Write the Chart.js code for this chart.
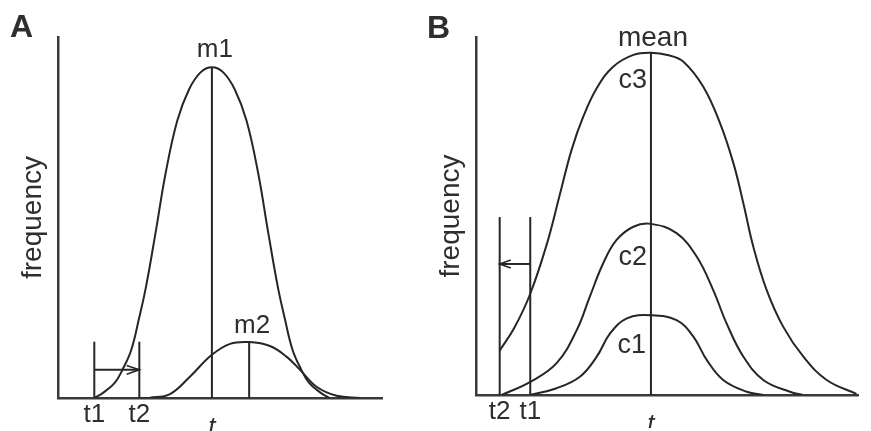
<!DOCTYPE html>
<html>
<head>
<meta charset="utf-8">
<script src="https://cdn.jsdelivr.net/npm/chart.js@4.4.1/dist/chart.umd.min.js"></script>
<style>
  html, body { margin: 0; padding: 0; background: #fff; overflow: hidden; }
  #wrap { position: relative; width: 871px; height: 431px; overflow: hidden; }
  canvas { position: absolute; top: 0; }
  #chartA { left: 0; }
  #chartB { left: 420px; }
</style>
</head>
<body>
<div id="wrap">
  <canvas id="chartA" width="420" height="460"></canvas>
  <canvas id="chartB" width="451" height="460"></canvas>
</div>
<script>
// ---- panel A: two distributions, the threshold moves from t1 to t2
const m1T    = [11.2, 14.0, 17.5, 20.0, 22.6, 25.0, 27.2, 30.3, 33.2, 36.8, 40.4, 44.0, 47.5, 51.0, 54.6, 58.2, 61.8, 64.7, 67.8, 70.0, 72.4, 75.0, 77.5, 81.0, 83.8];
const m1Freq = [0, 1.5, 4.2, 8.0, 13.3, 22.0, 31.0, 46.8, 62.2, 76.8, 85.4, 90.2, 91.6, 90.2, 85.4, 76.8, 62.2, 46.8, 31.0, 22.0, 13.3, 8.0, 4.2, 1.5, 0];
const m2T    = [25.3, 28.4, 34.6, 40.7, 47.4, 53.1, 59.0, 65.4, 70.6, 74.7, 79.8, 86.0, 93.2];
const m2Freq = [0, 0.1, 1.1, 5.9, 11.9, 15.0, 15.5, 14.4, 11.4, 7.8, 3.1, 0.6, 0];
const ticksA = [11.2, 25.1, 47.5];
const tickLabelsA = ['t1', 't2', 't'];
const windowA = [11.2, 25.1];      // from t1 to t2
const windowTopA = 15.6;
const arrowLevelA = 7.8;

// ---- panel B: three curves around one mean, threshold moves from t1 back to t2
const c3T    = [6.2, 10.0, 14.1, 18.5, 22.0, 25.0, 28.1, 31.6, 35.9, 41.2, 45.8, 50.4, 54.3, 59.5, 63.9, 67.4, 70.0, 72.6, 76.1, 80.4, 85.7, 91.8, 99.6];
const c3Freq = [12.4, 18.7, 28.0, 42.0, 56.2, 68.4, 77.8, 85.7, 91.7, 95.0, 95.6, 94.9, 93.1, 86.1, 75.9, 64.7, 53.5, 41.4, 29.3, 19.1, 10.7, 4.2, 0.3];
const c2T    = [6.7, 14.1, 21.1, 26.4, 29.8, 33.3, 36.8, 41.2, 45.8, 52.5, 57.8, 62.1, 65.6, 70.0, 75.2, 82.2, 85.6];
const c2Freq = [0, 3.6, 8.9, 18.2, 27.5, 36.8, 43.3, 47.0, 47.8, 45.2, 38.6, 29.3, 20.0, 10.7, 4.2, 0.9, 0];
const c1T    = [14.1, 21.1, 27.2, 31.6, 35.1, 39.5, 45.8, 52.5, 56.9, 60.4, 64.7, 70.9, 75.2];
const c1Freq = [0, 1.9, 5.1, 10.7, 17.2, 21.4, 22.3, 20.9, 16.3, 9.8, 4.2, 0.9, 0];
const ticksB = [6.2, 14.2, 45.8];
const tickLabelsB = ['t2', 't1', 't'];
const windowB = [14.2, 6.2];       // from t1 back to t2
const windowTopB = 49.7;
const arrowLevelB = 36.6;

const INK = '#262626';
const AXIS = '#3a3a3a';
const TEXT = '#2e2e2e';
const FAMILY = '"Liberation Sans", Arial, Helvetica, sans-serif';

function pts(xs, ys) {
  return xs.map((x, i) => ({ x: x, y: ys[i] }));
}
function peakOf(xs, ys) {
  const i = ys.indexOf(Math.max(...ys));
  return { x: xs[i], y: ys[i] };
}
function curve(xs, ys) {
  return { data: pts(xs, ys), borderColor: INK, borderWidth: 2, pointRadius: 0,
           tension: 0.4, fill: false };
}
function seg(points) {
  return { data: points, borderColor: INK, borderWidth: 2, pointRadius: 0, tension: 0, fill: false };
}
// vertical line from the baseline up to a peak
function stem(p) {
  return seg([{ x: p.x, y: 0 }, { x: p.x, y: p.y }]);
}
// window lines + arrow (head drawn at the "to" end)
function windowSets(win, top, level, headLen, headHalf) {
  const from = win[0], to = win[1];
  const dir = to > from ? 1 : -1;
  return [
    seg([{ x: from, y: 0 }, { x: from, y: top }]),
    seg([{ x: to, y: 0 }, { x: to, y: top }]),
    seg([{ x: from, y: level }, { x: to, y: level }]),
    Object.assign(seg([{ x: to - dir * headLen, y: level + headHalf }, { x: to, y: level },
                       { x: to - dir * headLen, y: level - headHalf }]), { borderWidth: 1.6 })
  ];
}

const textPlugin = {
  id: 'panelText',
  afterDraw(chart, args, opts) {
    const ctx = chart.ctx;
    const sx = chart.scales.x, sy = chart.scales.y;
    ctx.save();
    ctx.fillStyle = TEXT;
    ctx.textBaseline = 'alphabetic';
    ctx.textAlign = 'left';
    ctx.font = 'bold 32px ' + FAMILY;
    ctx.fillText(opts.letter, opts.letterX, opts.letterY);
    opts.notes.forEach(n => {
      ctx.font = n.size + 'px ' + FAMILY;
      ctx.textAlign = n.align;
      ctx.fillText(n.text, sx.getPixelForValue(n.at.x) + n.dx, sy.getPixelForValue(n.at.y) + n.dy);
    });
    ctx.restore();
  }
};

function makeOptions(ticks, tickLabels, yWidth, titlePad, pad, text) {
  return {
    responsive: false,
    animation: false,
    events: [],
    layout: { padding: pad },
    plugins: { legend: { display: false }, tooltip: { enabled: false }, panelText: text },
    scales: {
      x: {
        type: 'linear', min: 0, max: 100,
        grid: { display: false, drawTicks: false },
        border: { display: true, color: AXIS, width: 2.5 },
        afterBuildTicks: (s) => { s.ticks = ticks.map(v => ({ value: v })); },
        afterFit: (s) => { s.height = 33; },
        ticks: {
          autoSkip: false, maxRotation: 0, padding: 4, color: TEXT,
          // the italic t sits lower than t1/t2: give it an empty first line
          callback: (v, i) => tickLabels[i] === 't' ? ['', 't'] : tickLabels[i],
          font: (c) => tickLabels[c.index] === 't'
            ? { family: FAMILY, size: 26, style: 'italic', lineHeight: 0.65 }
            : { family: FAMILY, size: 26, lineHeight: 1 }
        }
      },
      y: {
        min: 0, max: 100,
        grid: { display: false, drawTicks: false },
        border: { display: true, color: AXIS, width: 2.5 },
        ticks: { display: false },
        afterFit: (s) => { s.width = yWidth; },
        title: {
          display: true, text: 'frequency', color: TEXT,
          font: { family: FAMILY, size: 28, lineHeight: 1 },
          padding: { top: titlePad, bottom: 0 }
        }
      }
    }
  };
}

// ---- chart A
const m1Peak = peakOf(m1T, m1Freq);
const m2Peak = peakOf(m2T, m2Freq);
new Chart(document.getElementById('chartA'), {
  type: 'line',
  data: {
    datasets: [
      curve(m1T, m1Freq),
      curve(m2T, m2Freq),
      stem(m1Peak),
      stem(m2Peak)
    ].concat(windowSets(windowA, windowTopA, arrowLevelA, 3.9, 1.2))
  },
  options: makeOptions(ticksA, tickLabelsA, 58, 19,
    { left: 0, right: 38, top: 37, bottom: 29 },
    { letter: 'A', letterX: 10, letterY: 37,
      notes: [
        { text: 'm1', at: m1Peak, dx: 3, dy: -10, align: 'center', size: 26 },
        { text: 'm2', at: m2Peak, dx: 3, dy: -9, align: 'center', size: 26 }
      ] }),
  plugins: [textPlugin]
});

// ---- chart B
const c3Peak = peakOf(c3T, c3Freq);
const c2Peak = peakOf(c2T, c2Freq);
const c1Peak = peakOf(c1T, c1Freq);
new Chart(document.getElementById('chartB'), {
  type: 'line',
  data: {
    datasets: [
      curve(c3T, c3Freq),
      curve(c2T, c2Freq),
      curve(c1T, c1Freq),
      stem(c3Peak)
    ].concat(windowSets(windowB, windowTopB, arrowLevelB, 2.9, 1.1))
  },
  options: makeOptions(ticksB, tickLabelsB, 56, 17,
    { left: 0, right: 13, top: 37, bottom: 32 },
    { letter: 'B', letterX: 7, letterY: 38,
      notes: [
        { text: 'mean', at: c3Peak, dx: 2, dy: -7, align: 'center', size: 28 },
        { text: 'c3', at: c3Peak, dx: -4, dy: 35, align: 'right', size: 27 },
        { text: 'c2', at: c2Peak, dx: -4, dy: 41, align: 'right', size: 27 },
        { text: 'c1', at: c1Peak, dx: -5, dy: 38, align: 'right', size: 27 }
      ] }),
  plugins: [textPlugin]
});
</script>
</body>
</html>
